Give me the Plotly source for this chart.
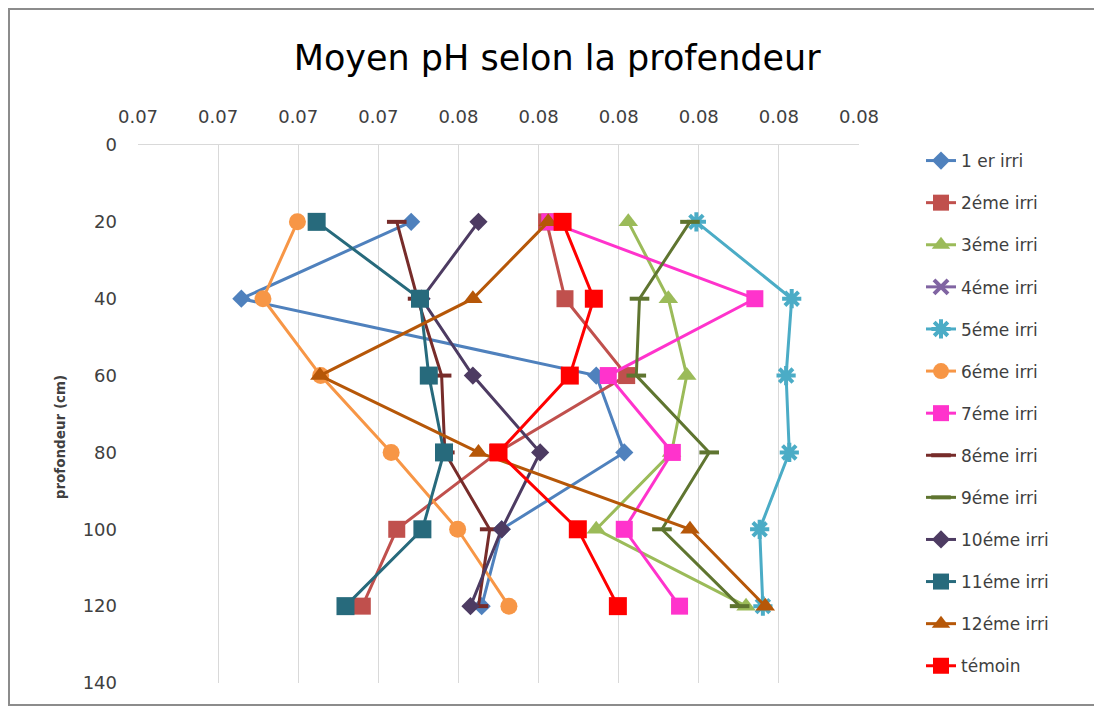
import plotly.graph_objects as go

depths = [20, 40, 60, 80, 100, 120]

s1 = [0.07441, 0.07229, 0.07672, 0.07707, 0.07554, 0.07529]
s2 = [0.07610, 0.07633, 0.07710, 0.07549, 0.07423, 0.07380]
s3 = [0.07712, 0.07762, 0.07785, 0.07766, 0.07672, 0.07859]
s4 = [None, None, None, None, None, None]
s5 = [0.07797, 0.07916, 0.07909, 0.07913, 0.07876, 0.07880]
s6 = [0.07299, 0.07256, 0.07328, 0.07416, 0.07499, 0.07563]
s7 = [0.07614, 0.07870, 0.07687, 0.07767, 0.07707, 0.07776]
s8 = [0.07423, 0.07449, 0.07479, 0.07483, 0.07539, 0.07525]
s9 = [0.07789, 0.07726, 0.07722, 0.07813, 0.07754, 0.07851]
s10 = [0.07525, 0.07454, 0.07518, 0.07602, 0.07554, 0.07515]
s11 = [0.07323, 0.07452, 0.07463, 0.07482, 0.07455, 0.07359]
s12 = [0.07612, 0.07518, 0.07327, 0.07525, 0.07789, 0.07883]
temoin = [0.07630, 0.07669, 0.07639, 0.07550, 0.07649, 0.07699]

names = ["1 er irri", "2éme irri", "3éme irri", "4éme irri", "5éme irri", "6éme irri",
         "7éme irri", "8éme irri", "9éme irri", "10éme irri", "11éme irri", "12éme irri", "témoin"]
x_tickvals = [0.071, 0.072, 0.073, 0.074, 0.075, 0.076, 0.077, 0.078, 0.079, 0.080]
x_ticktext = ["0.07", "0.07", "0.07", "0.07", "0.08", "0.08", "0.08", "0.08", "0.08", "0.08"]
y_tickvals = [0, 20, 40, 60, 80, 100, 120, 140]

series = [s1, s2, s3, s4, s5, s6, s7, s8, s9, s10, s11, s12, temoin]
colors = ["#4F81BD", "#C0504D", "#9BBB59", "#8064A2", "#4BACC6", "#F79646",
          "#FF33CC", "#772C2A", "#5F7530", "#4D3B62", "#276A7C", "#B65708", "#FF0000"]
symbols = ["diamond", "square", "triangle-up", "x-thin", "asterisk", "circle",
           "square", "line-ew", "line-ew", "diamond", "square", "triangle-up", "square"]
sizes = [14, 17, 17, 14, 16, 17, 17, 14, 14, 14, 18, 17, 18]

FONT = "DejaVu Sans, sans-serif"

fig = go.Figure()
for name, vals, col, sym, sz in zip(names, series, colors, symbols, sizes):
    open_sym = sym in ("x-thin", "asterisk", "line-ew")
    fig.add_trace(go.Scatter(
        x=vals, y=depths, name=name, mode="lines+markers",
        legendgroup=name,
        line=dict(color=col, width=3),
        marker=dict(symbol=sym, size=sz, color=col,
                    line=dict(color=col, width=4 if open_sym else 0)),
    ))

fig.update_layout(
    width=1094, height=700,
    paper_bgcolor="white", plot_bgcolor="white",
    margin=dict(l=130, r=243, t=137, b=25),
    font=dict(family=FONT, color="#404040"),
    title=dict(text="Moyen pH selon la profendeur", x=0.502, xanchor="center",
               xref="container", y=0.9286, yref="container", yanchor="middle",
               font=dict(size=35, color="#000000", family=FONT)),
    showlegend=True,
    legend=dict(x=1.086, xanchor="left", y=1.0037, yanchor="top", maxheight=690,
                tracegroupgap=17, font=dict(size=17, color="#404040", family=FONT),
                bgcolor="rgba(0,0,0,0)"),
    xaxis=dict(side="top", range=[0.071, 0.080], tickvals=x_tickvals, ticktext=x_ticktext,
               showgrid=True, gridcolor="#D9D9D9", gridwidth=1,
               showline=True, linecolor="#D9D9D9", linewidth=1, mirror=False,
               zeroline=False, ticks="", tickfont=dict(size=18, color="#404040", family=FONT),
               ticklabelstandoff=14),
    yaxis=dict(range=[140, 0], tickvals=y_tickvals, showgrid=False, zeroline=False,
               showline=False, ticks="", tickfont=dict(size=18, color="#404040", family=FONT),
               ticklabelstandoff=20),
)

fig.add_annotation(text="<b>profondeur (cm)</b>", xref="paper", yref="paper",
                   x=-0.108, y=0.457, xanchor="center", yanchor="middle",
                   textangle=-90, showarrow=False,
                   font=dict(size=13.5, color="#404040", family=FONT))

fig.add_shape(type="rect", xref="paper", yref="paper",
              x0=(1 - 130) / 721, x1=(1089 - 130) / 721,
              y0=(675 - 697) / 538, y1=(675 - 1) / 538,
              line=dict(color="#8C8C8C", width=2), fillcolor="rgba(0,0,0,0)", layer="below")

fig.write_html("out.html")
